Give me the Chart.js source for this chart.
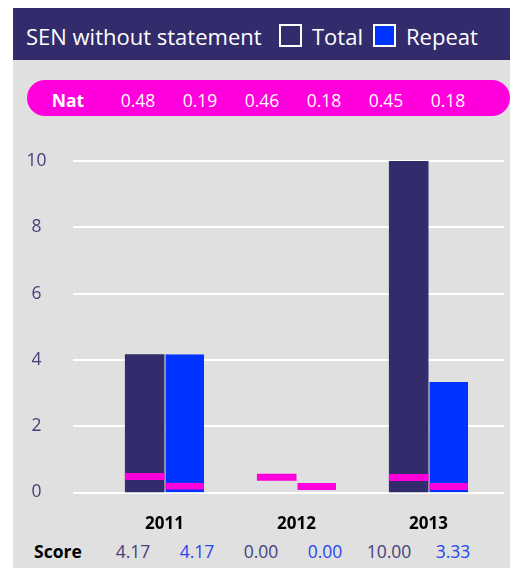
<!DOCTYPE html>
<html>
<head>
<meta charset="utf-8">
<script src="https://cdn.jsdelivr.net/npm/chart.js@4.4.0/dist/chart.umd.min.js"></script>
<style>
  body { margin: 0; width: 510px; height: 568px; background: #fff; position: relative; overflow: hidden; font-family: "Open Sans", sans-serif; }
  #panel { position: absolute; left: 13px; top: 60px; width: 497px; height: 508px; background: #e0e0e0; }
  #head { position: absolute; left: 13px; top: 8px; width: 497px; height: 52px; background: #332c6c; color: #fff; font-size: 22px; }
  #head span { position: absolute; top: 2px; line-height: 52px; white-space: nowrap; }
  .box { position: absolute; top: 16px; width: 19px; height: 19px; border: 2px solid #fff; }
  #pill { position: absolute; left: 27px; top: 80px; width: 483px; height: 36px; border-radius: 18px; background: #ff00dd; color: #fff; font-size: 17.5px; }
  #pill span, #score span { position: absolute; white-space: nowrap; transform: translateX(-50%); }
  #pill span { top: 2px; line-height: 36px; }
  #score { position: absolute; left: 0; top: 539px; width: 510px; height: 24px; font-size: 17.5px; }
  #score span { top: 0; line-height: 24px; }
  canvas { position: absolute; left: 0; top: 0; }
</style>
</head>
<body>
<div id="panel"></div>
<div id="head">
  <span style="left:13px">SEN without statement</span>
  <div class="box" style="left:266px;background:#332c6c"></div>
  <span style="left:299px">Total</span>
  <div class="box" style="left:360px;background:#0033ff"></div>
  <span style="left:393px">Repeat</span>
</div>
<div id="pill"></div>
<div id="score"></div>
<canvas id="myChart" width="510" height="568"></canvas>
<script>
var years = ['2011', '2012', '2013'];
var totalScore = [4.17, 0.00, 10.00];
var repeatScore = [4.17, 0.00, 3.33];
var natTotal = [0.48, 0.46, 0.45];
var natRepeat = [0.19, 0.18, 0.18];
var yTicks = [0, 2, 4, 6, 8, 10];

var dark = '#332c6c';
var blue = '#0033ff';
var magenta = '#ff00dd';
var markerHalf = 0.105;

// nat row and score row, interleaved total / repeat per year
var pill = document.getElementById('pill');
var score = document.getElementById('score');
function addSpan(parent, text, x, style) {
    var s = document.createElement('span');
    s.textContent = text;
    s.style.left = x + 'px';
    if (style) s.setAttribute('style', s.getAttribute('style') + ';' + style);
    parent.appendChild(s);
}
addSpan(pill, 'Nat', 41, 'font-weight:bold');
addSpan(score, 'Score', 58, 'font-weight:bold;color:#000');
for (var i = 0; i < years.length; i++) {
    addSpan(pill, natTotal[i].toFixed(2), 111 + i * 124);
    addSpan(pill, natRepeat[i].toFixed(2), 173 + i * 124);
    addSpan(score, totalScore[i].toFixed(2), 133 + i * 128, 'color:#46417a');
    addSpan(score, repeatScore[i].toFixed(2), 197 + i * 128, 'color:#2946f0');
}

function markers(arr) {
    return arr.map((v) => [v - markerHalf, v + markerHalf]);
}

var gridPlugin = {
    id: 'wideGrid',
    beforeDatasetsDraw(chart) {
        var ctx = chart.ctx;
        var y = chart.scales.y;
        ctx.save();
        ctx.strokeStyle = '#fff';
        ctx.lineWidth = 2;
        yTicks.forEach((t) => {
            var py = Math.round(y.getPixelForValue(t));
            ctx.beginPath();
            ctx.moveTo(73, py);
            ctx.lineTo(504, py);
            ctx.stroke();
        });
        ctx.restore();
    }
};

var ctx = document.getElementById('myChart').getContext('2d');
var myChart = new Chart(ctx, {
    type: 'bar',
    data: {
        labels: years,
        datasets: [{
            label: 'Total',
            data: totalScore,
            stack: 'total',
            order: 1,
            backgroundColor: dark,
            borderWidth: 0
        }, {
            label: 'Repeat',
            data: repeatScore,
            stack: 'repeat',
            order: 1,
            backgroundColor: blue,
            borderColor: '#fff',
            borderWidth: {left: 1, top: 0, right: 0, bottom: 0},
            borderSkipped: false
        }, {
            label: 'Nat Total',
            data: markers(natTotal),
            stack: 'total',
            order: 0,
            backgroundColor: magenta,
            borderWidth: 0
        }, {
            label: 'Nat Repeat',
            data: markers(natRepeat),
            stack: 'repeat',
            order: 0,
            backgroundColor: magenta,
            borderColor: 'rgba(0,0,0,0)',
            borderWidth: {left: 1, top: 0, right: 0, bottom: 0},
            borderSkipped: false
        }]
    },
    options: {
        responsive: false,
        animation: false,
        categoryPercentage: 0.6,
        barPercentage: 1,
        layout: {padding: {left: 0, right: 15.5, top: 161, bottom: 0}},
        plugins: {legend: {display: false}, tooltip: {enabled: false}},
        scales: {
            x: {
                stacked: true,
                grid: {display: false},
                border: {display: false},
                ticks: {color: '#000', font: {family: 'Open Sans', size: 17, weight: 'bold'}, padding: 13},
                afterFit: (s) => { s.height = 75.5; }
            },
            y: {
                stacked: false,
                min: 0,
                max: 10,
                grid: {display: false},
                border: {display: false},
                afterBuildTicks: (s) => { s.ticks = yTicks.map((v) => ({value: v})); },
                ticks: {color: '#46417a', font: {family: 'Open Sans', size: 17.5}, padding: 44, crossAlign: 'center'},
                afterFit: (s) => { s.width = 98.5; }
            }
        }
    },
    plugins: [gridPlugin]
});
</script>
</body>
</html>
